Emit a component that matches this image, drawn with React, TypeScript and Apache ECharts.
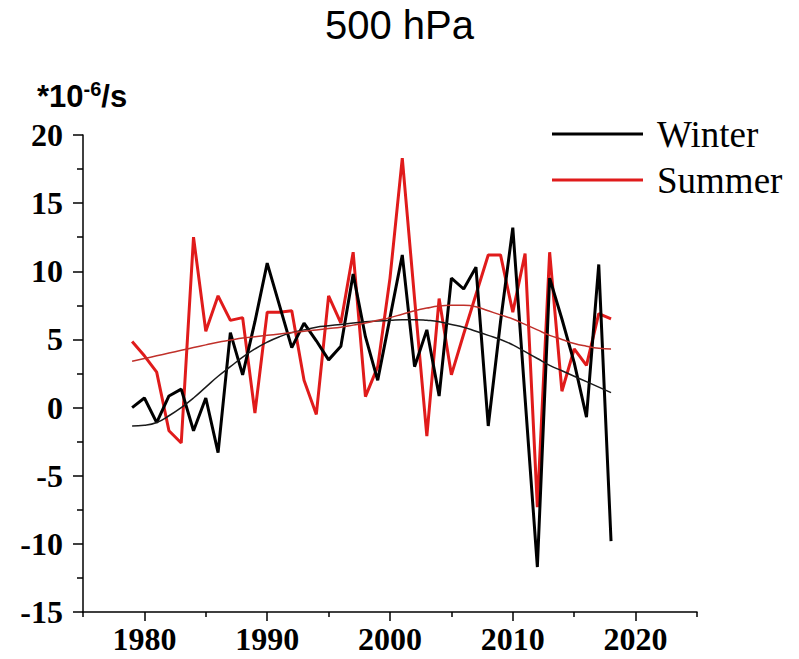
import React, { useEffect, useRef } from "react";
import * as echarts from "echarts";

const years = [
  1979, 1980, 1981, 1982, 1983, 1984, 1985, 1986, 1987, 1988,
  1989, 1990, 1991, 1992, 1993, 1994, 1995, 1996, 1997, 1998,
  1999, 2000, 2001, 2002, 2003, 2004, 2005, 2006, 2007, 2008,
  2009, 2010, 2011, 2012, 2013, 2014, 2015, 2016, 2017, 2018,
];

const winter = [
  0.0, 0.7, -1.1, 0.85, 1.35, -1.7, 0.7, -3.3, 5.5, 2.4,
  6.3, 10.6, 7.5, 4.4, 6.2, 4.9, 3.5, 4.5, 9.8, 5.2,
  2.0, 6.6, 11.2, 3.0, 5.7, 0.85, 9.5, 8.7, 10.3, -1.35,
  6.3, 13.2, 0.7, -11.7, 9.5, 6.5, 3.3, -0.7, 10.5, -9.8,
];

const summer = [
  4.85, 3.8, 2.6, -1.7, -2.6, 12.5, 5.6, 8.2, 6.4, 6.6,
  -0.4, 7.0, 7.0, 7.1, 2.0, -0.5, 8.2, 6.2, 11.4, 0.8,
  3.0, 9.5, 18.3, 8.0, -2.1, 8.0, 2.4, 5.4, 8.3, 11.2,
  11.2, 7.0, 11.3, -7.3, 11.4, 1.2, 4.3, 3.1, 6.9, 6.5,
];

const winterTrend = [
  -1.35, -1.3, -1.1, -0.6, 0.0, 0.7, 1.5, 2.3, 3.0, 3.7,
  4.3, 4.8, 5.2, 5.5, 5.7, 5.9, 6.0, 6.1, 6.2, 6.3,
  6.35, 6.4, 6.45, 6.45, 6.4, 6.3, 6.1, 5.9, 5.6, 5.3,
  5.0, 4.6, 4.1, 3.6, 3.1, 2.7, 2.3, 1.9, 1.5, 1.1,
];

const summerTrend = [
  3.4, 3.6, 3.8, 4.0, 4.2, 4.4, 4.6, 4.8, 4.95, 5.1,
  5.2, 5.3, 5.4, 5.5, 5.6, 5.7, 5.8, 5.9, 6.05, 6.2,
  6.4, 6.6, 6.85, 7.1, 7.3, 7.45, 7.5, 7.5, 7.4, 7.1,
  6.8, 6.5, 6.1, 5.7, 5.3, 5.0, 4.7, 4.5, 4.35, 4.3,
];

const xTickLabels = [1980, 1990, 2000, 2010, 2020];
const seriesNames = ["Winter", "Summer"];
const titleText = "500 hPa";

const pair = (vals: number[]) => years.map((y, i) => [y, vals[i]]);

export default function App() {
  const ref = useRef<HTMLDivElement>(null);
  useEffect(() => {
    if (!ref.current) return;
    const chart = echarts.init(ref.current, null, { renderer: "svg" });
    const serifBold = {
      fontFamily: "Liberation Serif",
      fontWeight: "bold" as const,
      fontSize: 32,
      color: "#000",
    };
    chart.setOption({
      animation: false,
      backgroundColor: "#fff",
      title: {
        text: titleText,
        left: "center",
        top: 0,
        textStyle: {
          fontFamily: "Liberation Sans",
          fontWeight: "normal",
          fontSize: 40,
          color: "#000",
        },
      },
      legend: {
        data: seriesNames,
        orient: "vertical",
        left: 547,
        top: 106,
        icon: "rect",
        itemWidth: 91,
        itemHeight: 3,
        itemGap: 0,
        textStyle: {
          fontFamily: "Liberation Serif",
          fontSize: 37,
          color: "#000",
          lineHeight: 46,
          padding: [0, 0, 0, 9],
        },
      },
      graphic: [
        {
          type: "text",
          left: 37,
          top: 79,
          style: {
            text: "{a|*10}{b|-6}{a|/s}",
            rich: {
              a: {
                fontFamily: "Liberation Sans",
                fontWeight: "bold",
                fontSize: 31,
                lineHeight: 34,
                fill: "#000",
              },
              b: {
                fontFamily: "Liberation Sans",
                fontWeight: "bold",
                fontSize: 20,
                lineHeight: 34,
                verticalAlign: "top",
                fill: "#000",
              },
            },
          },
        },
      ],
      grid: { left: 83, right: 102, top: 135, bottom: 47 },
      xAxis: [
        {
          type: "value",
          min: 1975,
          max: 2025,
          interval: 10,
          axisLine: { show: true, onZero: false, lineStyle: { color: "#000", width: 1.5 } },
          axisTick: { show: true, length: 5, lineStyle: { color: "#000", width: 1.5 } },
          axisLabel: { show: false },
          splitLine: { show: false },
        },
        {
          type: "value",
          min: 1975,
          max: 2025,
          position: "bottom",
          axisLine: { show: false, onZero: false },
          axisTick: {
            show: true,
            length: 9,
            customValues: xTickLabels,
            lineStyle: { color: "#000", width: 1.5 },
          },
          axisLabel: {
            show: true,
            customValues: xTickLabels,
            margin: 11,
            formatter: (v: number) => String(v),
            ...serifBold,
          },
          splitLine: { show: false },
        },
      ],
      yAxis: {
        type: "value",
        min: -15,
        max: 20,
        interval: 5,
        axisLine: { show: true, onZero: false, lineStyle: { color: "#000", width: 1.5 } },
        axisTick: { show: true, length: 10, lineStyle: { color: "#000", width: 1.5 } },
        minorTick: { show: true, splitNumber: 2, length: 6, lineStyle: { color: "#000", width: 1.5 } },
        axisLabel: { margin: 20, ...serifBold },
        splitLine: { show: false },
      },
      series: [
        {
          name: "Winter",
          type: "line",
          xAxisIndex: 0,
          data: pair(winter),
          showSymbol: false,
          symbol: "none",
          lineStyle: { color: "#000", width: 3 },
          itemStyle: { color: "#000" },
          z: 3,
        },
        {
          name: "Summer",
          type: "line",
          xAxisIndex: 0,
          data: pair(summer),
          showSymbol: false,
          symbol: "none",
          lineStyle: { color: "#e01b1b", width: 3 },
          itemStyle: { color: "#e01b1b" },
          z: 2,
        },
        {
          name: "Winter trend",
          type: "line",
          xAxisIndex: 0,
          data: pair(winterTrend),
          smooth: true,
          showSymbol: false,
          symbol: "none",
          lineStyle: { color: "#1a1a1a", width: 1.5 },
          z: 4,
        },
        {
          name: "Summer trend",
          type: "line",
          xAxisIndex: 0,
          data: pair(summerTrend),
          smooth: true,
          showSymbol: false,
          symbol: "none",
          lineStyle: { color: "#c0302a", width: 1.5 },
          z: 4,
        },
      ],
    });
    return () => chart.dispose();
  }, []);
  return (
    <div
      ref={ref}
      style={{ position: "fixed", left: 0, top: 0, width: 799, height: 659 }}
    />
  );
}
